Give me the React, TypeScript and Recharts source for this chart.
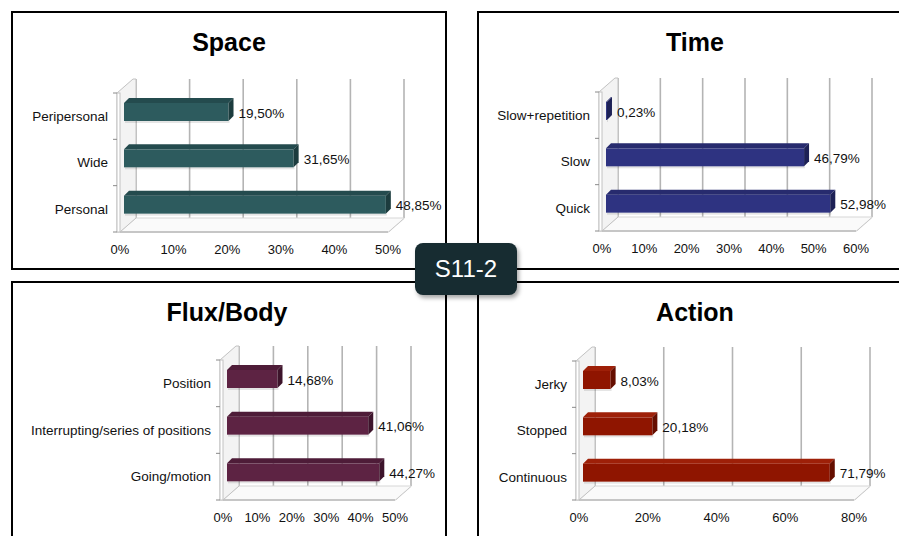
import React from 'react';
import { BarChart, Bar, XAxis, YAxis, CartesianGrid, ReferenceArea, LabelList } from 'recharts';

// ---------- data ----------
const spaceCategories = ['Peripersonal', 'Wide', 'Personal'];
const spaceValues = [19.5, 31.65, 48.85];
const spaceTicks = [0, 10, 20, 30, 40, 50];

const timeCategories = ['Slow+repetition', 'Slow', 'Quick'];
const timeValues = [0.23, 46.79, 52.98];
const timeTicks = [0, 10, 20, 30, 40, 50, 60];

const fluxCategories = ['Position', 'Interrupting/series of positions', 'Going/motion'];
const fluxValues = [14.68, 41.06, 44.27];
const fluxTicks = [0, 10, 20, 30, 40, 50];

const actionCategories = ['Jerky', 'Stopped', 'Continuous'];
const actionValues = [8.03, 20.18, 71.79];
const actionTicks = [0, 20, 40, 60, 80];

const centerLabel = 'S11-2';

// ---------- styling ----------
const FONT = '"Liberation Sans", Arial, Helvetica, sans-serif';
const DX = 16;
const DY = -14;
const OX = 4;
const OY = -7;
const DD = 5;

type Colors = { front: string; top: string; side: string };

const teal: Colors = { front: '#2d5b5e', top: '#244b4e', side: '#1c3c3e' };
const navy: Colors = { front: '#2e3381', top: '#272b6e', side: '#1d2156' };
const maroon: Colors = { front: '#5d2343', top: '#4e1c38', side: '#3d142b' };
const red: Colors = { front: '#8f1500', top: '#9e2008', side: '#650e00' };

const fmt = (v: number) => v.toFixed(2).replace('.', ',') + '%';

const makeShape = (c: Colors) => (props: any) => {
  const { x, y, width, height } = props;
  if (x == null || y == null) return null;
  const w = Math.max(width || 0, 0);
  const X = x + OX;
  const Y = y + OY;
  const h = height;
  return (
    <g>
      <rect x={X + 1} y={Y + h} width={w} height={2} fill="rgba(0,0,0,0.10)" />
      <rect x={X} y={Y + DD} width={w} height={h - DD} fill={c.front} />
      <polygon points={`${X},${Y + DD} ${X + DD},${Y} ${X + w + DD},${Y} ${X + w},${Y + DD}`} fill={c.top} />
      <polygon
        points={`${X + w},${Y + DD} ${X + w + DD},${Y} ${X + w + DD},${Y + h - DD} ${X + w},${Y + h}`}
        fill={c.side}
      />
    </g>
  );
};

const valueLabel = (props: any) => {
  let { x, y, width, height, value } = props;
  if (x == null && props.viewBox) {
    x = props.viewBox.x;
    y = props.viewBox.y;
    width = props.viewBox.width;
    height = props.viewBox.height;
  }
  const tx = x + width + OX + DD + 5;
  const ty = y + OY + (DD + height) / 2 + 1;
  return (
    <text x={tx} y={ty} dy="0.35em" fontSize={13.5} fill="#111" fontFamily={FONT} textAnchor="start">
      {fmt(Number(value))}
    </text>
  );
};

const gridLine = (props: any) => {
  const { x1, y1, y2 } = props;
  return (
    <g key={props.key}>
      <line x1={x1 + DX} y1={y1 + DY} x2={x1 + DX} y2={y2 + DY} stroke="#b4b4b4" strokeWidth={1.6} />
      <line x1={x1} y1={y2} x2={x1 + DX} y2={y2 + DY} stroke="#bdbdbd" strokeWidth={1.6} />
    </g>
  );
};

const wallFloor = (props: any) => {
  const { x, y, width, height } = props;
  if (x == null) return null;
  const L = x;
  const R = x + width;
  const T = y;
  const B = y + height;
  const band = height / 3;
  return (
    <g>
      <polygon points={`${L},${B} ${R},${B} ${R + DX},${B + DY} ${L + DX},${B + DY}`} fill="#fafafa" />
      <line x1={L + DX} y1={B + DY} x2={R + DX} y2={B + DY} stroke="#d6d6d6" strokeWidth={1} />
      <line x1={L} y1={B} x2={R} y2={B} stroke="#c6c6c6" strokeWidth={1.8} />
      <polygon
        points={`${L - 3},${T} ${L + DX - 3},${T + DY} ${L + DX},${T + DY} ${L + DX},${B + DY} ${L},${B} ${L - 3},${B}`}
        fill="#f3f3f3"
        stroke="#c2c2c2"
        strokeWidth={1}
      />
      <rect x={L - 3} y={T} width={3} height={B - T} fill="#ffffff" stroke="#c2c2c2" strokeWidth={1} />
      {[0, 1, 2, 3].map((i) => (
        <line key={i} x1={L - 7} x2={L - 3} y1={T + i * band} y2={T + i * band} stroke="#8a8a8a" strokeWidth={1} />
      ))}
    </g>
  );
};

type Box = { left: number; top: number; w: number; h: number };
type Plot = { L: number; R: number; T: number; B: number };

function Chart3D(p: {
  categories: string[];
  values: number[];
  ticks: number[];
  colors: Colors;
  box: Box;
  plot: Plot;
}) {
  const { categories, values, ticks, colors, box, plot } = p;
  const data = categories.map((c, i) => ({ name: c, value: values[i] }));
  const max = ticks[ticks.length - 1];
  const xAxisH = 30;
  const margin = {
    top: plot.T - box.top,
    right: box.left + box.w - plot.R,
    left: 0,
    bottom: box.top + box.h - plot.B - xAxisH,
  };
  return (
    <div style={{ position: 'absolute', left: box.left, top: box.top, width: box.w, height: box.h }}>
      <BarChart width={box.w} height={box.h} data={data} layout="vertical" margin={margin} barSize={23}>
        <CartesianGrid horizontal={false} vertical={gridLine} stroke="#b4b4b4" />
        <ReferenceArea x1={0} x2={max} shape={wallFloor} ifOverflow="visible" />
        <XAxis
          type="number"
          domain={[0, max]}
          ticks={ticks}
          interval={0}
          height={xAxisH}
          axisLine={false}
          tickLine={false}
          tickSize={0}
          tickMargin={13}
          tickFormatter={(v: number) => v + '%'}
          tick={{ fontSize: 13, fill: '#111', fontFamily: FONT }}
        />
        <YAxis
          type="category"
          dataKey="name"
          width={plot.L - box.left}
          axisLine={false}
          tickLine={false}
          tickSize={0}
          tickMargin={12}
          interval={0}
          tick={{ fontSize: 13.5, fill: '#111', fontFamily: FONT }}
        />
        <Bar dataKey="value" isAnimationActive={false} shape={makeShape(colors)}>
          <LabelList dataKey="value" content={valueLabel} />
        </Bar>
      </BarChart>
    </div>
  );
}

const titleStyle = (cx: number, top: number): React.CSSProperties => ({
  position: 'absolute',
  left: cx - 150,
  top,
  width: 300,
  textAlign: 'center',
  fontFamily: FONT,
  fontWeight: 'bold',
  fontSize: 25,
  lineHeight: '25px',
  color: '#000',
});

const panelStyle = (left: number, top: number, width: number, height: number): React.CSSProperties => ({
  position: 'absolute',
  left,
  top,
  width,
  height,
  boxSizing: 'border-box',
  border: '2px solid #000',
  background: '#fff',
});

export default function App() {
  return (
    <div
      style={{
        position: 'absolute',
        left: 0,
        top: 0,
        width: 899,
        height: 536,
        overflow: 'hidden',
        background: '#fff',
        fontFamily: FONT,
      }}
    >
      <div style={panelStyle(11, 11, 436, 259)} />
      <div style={panelStyle(477, 11, 440, 259)} />
      <div style={panelStyle(11, 281, 436, 300)} />
      <div style={panelStyle(477, 281, 440, 300)} />

      <div style={titleStyle(229, 30)}>Space</div>
      <div style={titleStyle(695, 30)}>Time</div>
      <div style={titleStyle(227, 300)}>Flux/Body</div>
      <div style={titleStyle(695, 300)}>Action</div>

      <Chart3D
        categories={spaceCategories}
        values={spaceValues}
        ticks={spaceTicks}
        colors={teal}
        box={{ left: 13, top: 60, w: 433, h: 208 }}
        plot={{ L: 120, R: 388, T: 93, B: 232 }}
      />
      <Chart3D
        categories={timeCategories}
        values={timeValues}
        ticks={timeTicks}
        colors={navy}
        box={{ left: 479, top: 60, w: 420, h: 208 }}
        plot={{ L: 602, R: 856, T: 92, B: 231 }}
      />
      <Chart3D
        categories={fluxCategories}
        values={fluxValues}
        ticks={fluxTicks}
        colors={maroon}
        box={{ left: 13, top: 330, w: 433, h: 206 }}
        plot={{ L: 223, R: 395, T: 360, B: 500 }}
      />
      <Chart3D
        categories={actionCategories}
        values={actionValues}
        ticks={actionTicks}
        colors={red}
        box={{ left: 479, top: 330, w: 420, h: 206 }}
        plot={{ L: 579, R: 854, T: 361, B: 500 }}
      />

      <div
        style={{
          position: 'absolute',
          left: 415,
          top: 243,
          width: 102,
          height: 52,
          background: '#172c31',
          borderRadius: 8,
          boxShadow: '2px 3px 4px rgba(0,0,0,0.35)',
          color: '#fff',
          fontFamily: FONT,
          fontSize: 24,
          display: 'flex',
          alignItems: 'center',
          justifyContent: 'center',
        }}
      >
        {centerLabel}
      </div>
    </div>
  );
}
